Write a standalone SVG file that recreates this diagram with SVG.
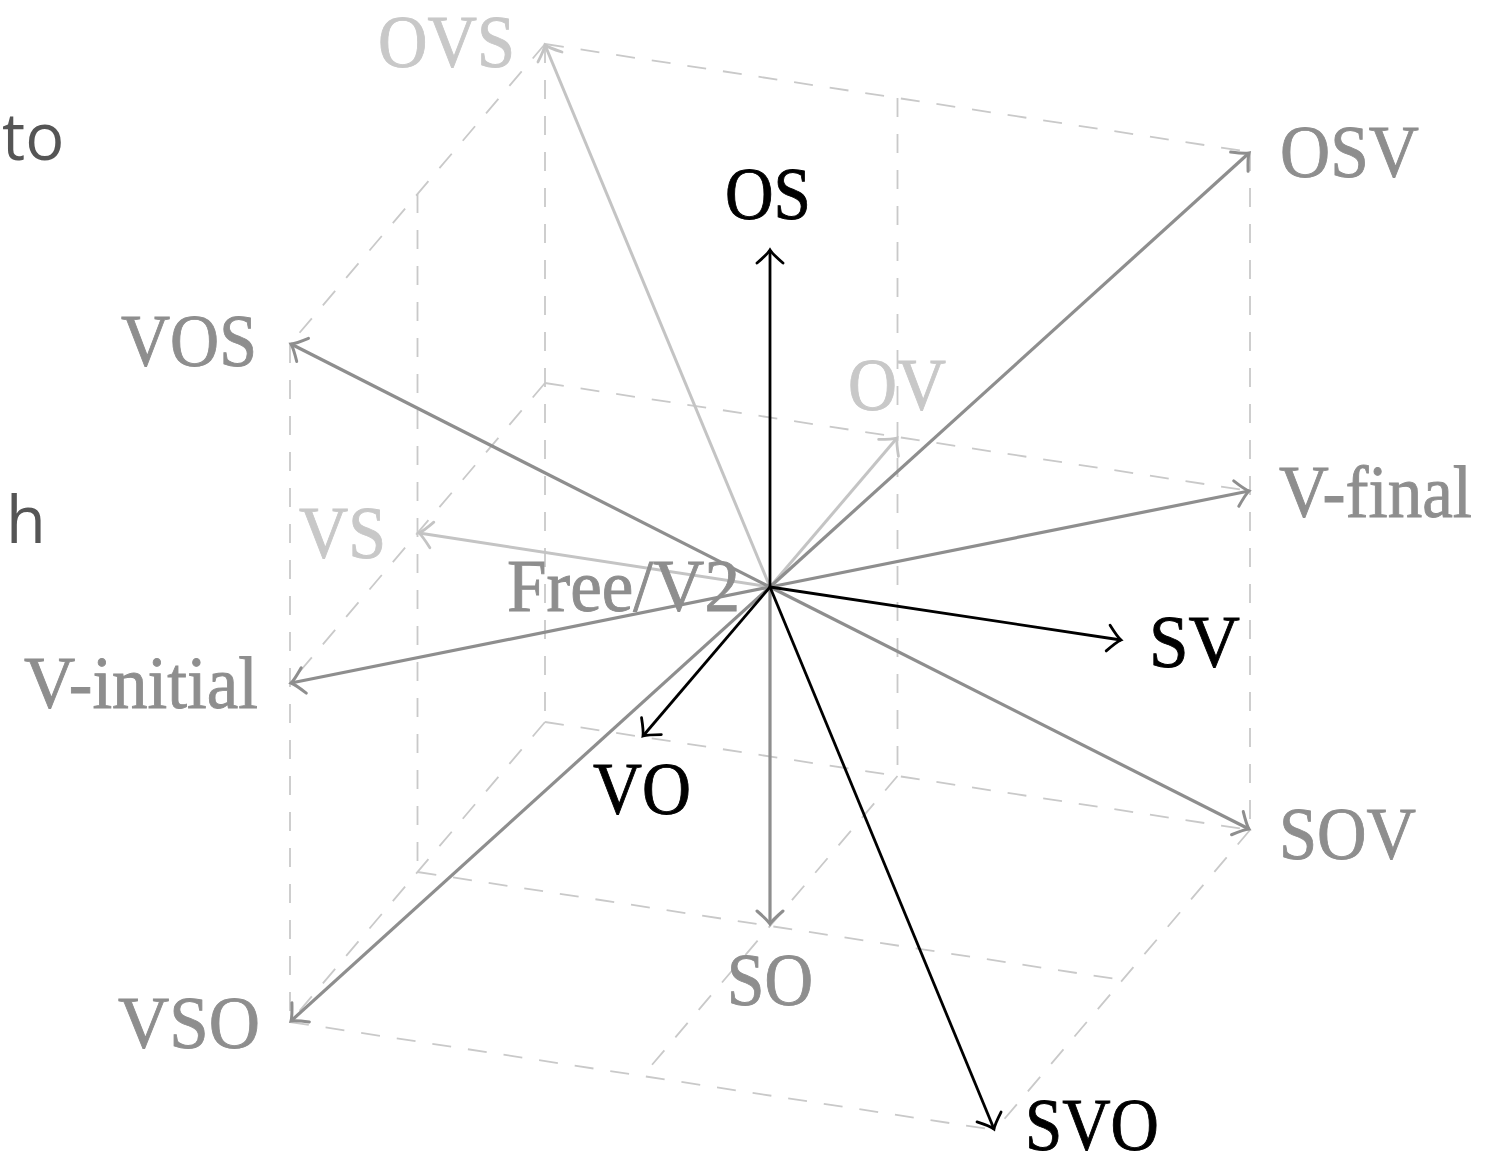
<svg xmlns="http://www.w3.org/2000/svg" width="1501" height="1160" viewBox="0 0 1501 1160">
<style>
.bg{fill:#fff}
.dash{stroke:#c9c9c9;stroke-width:1.8;stroke-dasharray:19 17;fill:none}
.a-k{stroke:#000;stroke-width:2.8;fill:none}
.a-g{stroke:#8e8e8e;stroke-width:3.2;fill:none}
.a-l{stroke:#c4c4c4;stroke-width:3;fill:none}
.lab{font-family:"Liberation Serif","Times New Roman",serif;font-size:74px;stroke-width:0.9}
.t-k{fill:#000;stroke:#000}
.t-g{fill:#8e8e8e;stroke:#8e8e8e}
.t-l{fill:#c8c8c8;stroke:#c8c8c8}
.side{font-family:"Open Sans","Noto Sans",sans-serif;font-size:65px;fill:#555}
</style>
<defs>
<marker id="ah-k" markerUnits="userSpaceOnUse" markerWidth="30" markerHeight="30" viewBox="-15 -15 30 30" refX="0" refY="0" orient="auto" overflow="visible">
<path d="M-13,-13 Q-4,-2.5 0,0 Q-4,2.5 -13,13" fill="none" stroke="#000" stroke-width="2.8" stroke-linecap="round"/>
</marker>
<marker id="ah-g" markerUnits="userSpaceOnUse" markerWidth="30" markerHeight="30" viewBox="-15 -15 30 30" refX="0" refY="0" orient="auto" overflow="visible">
<path d="M-13,-13 Q-4,-2.5 0,0 Q-4,2.5 -13,13" fill="none" stroke="#8e8e8e" stroke-width="3" stroke-linecap="round"/>
</marker>
<marker id="ah-l" markerUnits="userSpaceOnUse" markerWidth="30" markerHeight="30" viewBox="-15 -15 30 30" refX="0" refY="0" orient="auto" overflow="visible">
<path d="M-13,-13 Q-4,-2.5 0,0 Q-4,2.5 -13,13" fill="none" stroke="#c4c4c4" stroke-width="2.8" stroke-linecap="round"/>
</marker>
</defs>
<rect class="bg" x="0" y="0" width="1501" height="1160"/>

<g id="page-text">
<text class="side" x="2" y="160">to</text>
<text class="side" x="6" y="543">h</text>
</g>

<g id="cube-grid">
<line class="dash" x1="545" y1="44" x2="1250" y2="152"/>
<line class="dash" x1="545" y1="383" x2="1250" y2="491"/>
<line class="dash" x1="545" y1="722" x2="1250" y2="830"/>
<line class="dash" x1="545" y1="44" x2="545" y2="722"/>
<line class="dash" x1="897.5" y1="98" x2="897.5" y2="776"/>
<line class="dash" x1="1250" y1="152" x2="1250" y2="830"/>
<line class="dash" x1="545" y1="44" x2="290" y2="344"/>
<line class="dash" x1="545" y1="383" x2="290" y2="683"/>
<line class="dash" x1="545" y1="722" x2="290" y2="1022"/>
<line class="dash" x1="417.5" y1="194" x2="417.5" y2="872"/>
<line class="dash" x1="290" y1="344" x2="290" y2="1022"/>
<line class="dash" x1="897.5" y1="776" x2="642.5" y2="1076"/>
<line class="dash" x1="1250" y1="830" x2="995" y2="1130"/>
<line class="dash" x1="417.5" y1="872" x2="1122.5" y2="980"/>
<line class="dash" x1="290" y1="1022" x2="995" y2="1130"/>
</g>

<g id="connectors">
<line class="a-l" x1="770" y1="587" x2="545" y2="45" marker-end="url(#ah-l)"/>
<line class="a-l" x1="770" y1="587" x2="419" y2="533" marker-end="url(#ah-l)"/>
<line class="a-l" x1="770" y1="587" x2="897" y2="438" marker-end="url(#ah-l)"/>
<line class="a-g" x1="770" y1="587" x2="1249" y2="153" marker-end="url(#ah-g)"/>
<line class="a-g" x1="770" y1="587" x2="291" y2="344" marker-end="url(#ah-g)"/>
<line class="a-g" x1="770" y1="587" x2="1249" y2="491" marker-end="url(#ah-g)"/>
<line class="a-g" x1="770" y1="587" x2="291" y2="683" marker-end="url(#ah-g)"/>
<line class="a-g" x1="770" y1="587" x2="1249" y2="829" marker-end="url(#ah-g)"/>
<line class="a-g" x1="770" y1="587" x2="291" y2="1021" marker-end="url(#ah-g)"/>
<line class="a-g" x1="770" y1="587" x2="770" y2="924" marker-end="url(#ah-g)"/>
<line class="a-k" x1="770" y1="587" x2="770" y2="250" marker-end="url(#ah-k)"/>
<line class="a-k" x1="770" y1="587" x2="1121" y2="640" marker-end="url(#ah-k)"/>
<line class="a-k" x1="770" y1="587" x2="643" y2="736" marker-end="url(#ah-k)"/>
<line class="a-k" x1="770" y1="587" x2="994" y2="1129" marker-end="url(#ah-k)"/>
</g>

<g id="node-free"><text class="lab t-g" x="507" y="611" textLength="233" lengthAdjust="spacingAndGlyphs">Free/V2</text></g>
<g id="node-ovs"><text class="lab t-l" x="378" y="67" textLength="137" lengthAdjust="spacingAndGlyphs">OVS</text></g>
<g id="node-osv"><text class="lab t-g" x="1280" y="177" textLength="139" lengthAdjust="spacingAndGlyphs">OSV</text></g>
<g id="node-os"><text class="lab t-k" x="725" y="219" textLength="86" lengthAdjust="spacingAndGlyphs">OS</text></g>
<g id="node-vos"><text class="lab t-g" x="121" y="366" textLength="136" lengthAdjust="spacingAndGlyphs">VOS</text></g>
<g id="node-ov"><text class="lab t-l" x="848" y="410" textLength="98" lengthAdjust="spacingAndGlyphs">OV</text></g>
<g id="node-vfinal"><text class="lab t-g" x="1279" y="517" textLength="193" lengthAdjust="spacingAndGlyphs">V-final</text></g>
<g id="node-vs"><text class="lab t-l" x="299" y="558" textLength="87" lengthAdjust="spacingAndGlyphs">VS</text></g>
<g id="node-sv"><text class="lab t-k" x="1149" y="667" textLength="91" lengthAdjust="spacingAndGlyphs">SV</text></g>
<g id="node-vinitial"><text class="lab t-g" x="24" y="708" textLength="234" lengthAdjust="spacingAndGlyphs">V-initial</text></g>
<g id="node-vo"><text class="lab t-k" x="593" y="814" textLength="98" lengthAdjust="spacingAndGlyphs">VO</text></g>
<g id="node-sov"><text class="lab t-g" x="1279" y="859" textLength="137" lengthAdjust="spacingAndGlyphs">SOV</text></g>
<g id="node-so"><text class="lab t-g" x="727" y="1005" textLength="86" lengthAdjust="spacingAndGlyphs">SO</text></g>
<g id="node-vso"><text class="lab t-g" x="118" y="1048" textLength="142" lengthAdjust="spacingAndGlyphs">VSO</text></g>
<g id="node-svo"><text class="lab t-k" x="1025" y="1150" font-size="72" textLength="134" lengthAdjust="spacingAndGlyphs">SVO</text></g>
</svg>
